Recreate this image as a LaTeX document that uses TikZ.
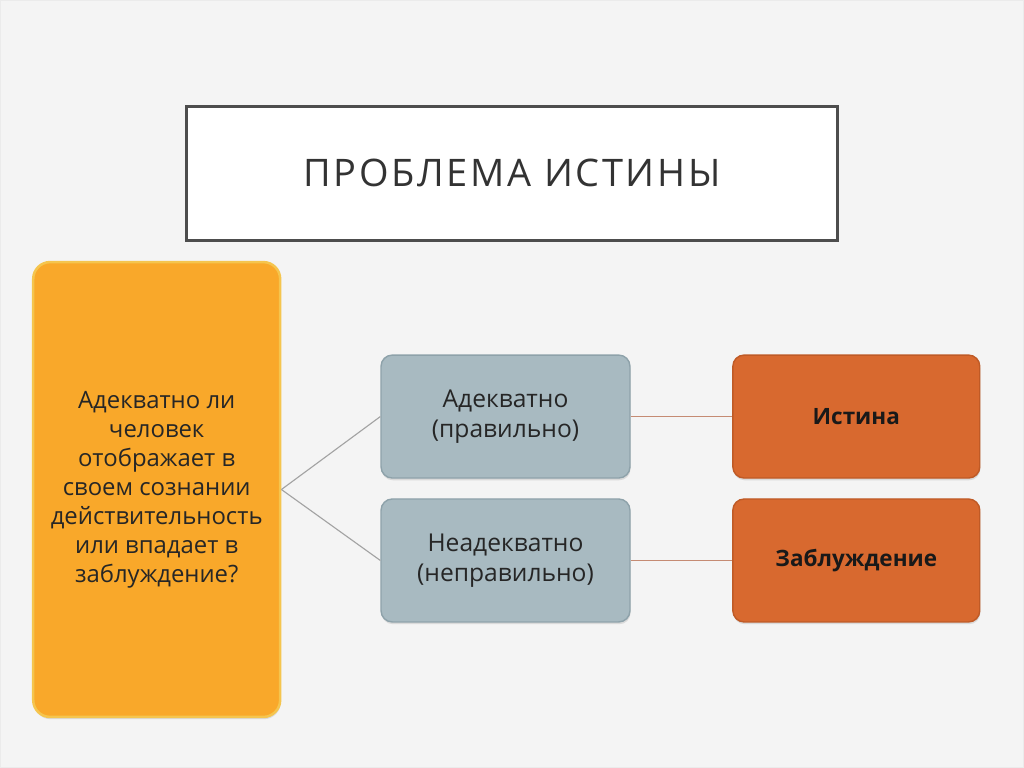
\documentclass[tikz,border=0pt]{standalone}
\usepackage{fontspec}
\setmainfont{Open Sans}
\usepackage{xcolor}
\usetikzlibrary{shadows}

\definecolor{slidebg}{HTML}{F4F4F4}
\definecolor{framegray}{HTML}{4D4D4D}
\definecolor{questfill}{HTML}{F9A82A}
\definecolor{questline}{HTML}{F5C54E}
\definecolor{answfill}{HTML}{A8BAC1}
\definecolor{answline}{HTML}{8EA2AA}
\definecolor{resfill}{HTML}{D8692F}
\definecolor{resline}{HTML}{BF5A26}
\definecolor{linkgray}{HTML}{A3A3A3}
\definecolor{linkbrown}{HTML}{C58B73}

\tikzset{
  titlebox/.style={draw=framegray, line width=2.2pt, fill=white,
    minimum width=16.3cm, minimum height=3.35cm, inner sep=0pt},
  boxshadow/.style={drop shadow={opacity=0.22, shadow xshift=0.4pt, shadow yshift=-1.6pt}},
  questbox/.style={boxshadow, draw=questline, line width=1.8pt, fill=questfill,
    rounded corners=12pt, minimum width=6.175cm, minimum height=11.375cm,
    inner sep=0pt, align=center, text=black!85, font=\fontsize{17}{20.6}\selectfont},
  answbox/.style={boxshadow, draw=answline, line width=1pt, fill=answfill,
    rounded corners=8pt, minimum width=6.225cm, minimum height=3.075cm,
    inner sep=0pt, align=center, text=black!85, font=\fontsize{17.5}{21.3}\selectfont},
  resbox/.style={boxshadow, draw=resline, line width=1pt, fill=resfill,
    rounded corners=8pt, minimum width=6.175cm, minimum height=3.075cm,
    inner sep=0pt, align=center, text=black!90, font=\fontsize{16}{21}\selectfont\bfseries},
  graylink/.style={draw=linkgray, line width=0.8pt},
  brownlink/.style={draw=linkbrown, line width=1.1pt}
}

\begin{document}
\begin{tikzpicture}[x=0.025cm, y=-0.025cm]
  % slide background
  \fill[slidebg, draw=black!8] (0,0) rectangle (1024,767);
  \useasboundingbox (0,0) rectangle (1024,767);

  % title
  \node[titlebox] (title) at (512,173)
    {\fontsize{27}{32}\selectfont\addfontfeature{LetterSpace=7}\color{black!80}ПРОБЛЕМА ИСТИНЫ};

  % question and the two answers
  \node[questbox] (question) at (156.5,489.5)
    {Адекватно ли\\человек\\отображает в\\своем сознании\\действительность\\или впадает в\\заблуждение?};
  \node[answbox] (adeq) at (505.5,416.5) {Адекватно\\(правильно)};
  \node[answbox] (inadeq) at (505.5,560.5) {Неадекватно\\(неправильно)};

  % results
  \node[resbox] (truth) at (856.5,416.5) {Истина};
  \node[resbox] (error) at (856.5,560.5) {Заблуждение};

  % links
  \draw[graylink] (question.east) -- (adeq.west);
  \draw[graylink] (question.east) -- (inadeq.west);
  \draw[brownlink] (adeq.east) -- (truth.west);
  \draw[brownlink] (inadeq.east) -- (error.west);
\end{tikzpicture}
\end{document}
